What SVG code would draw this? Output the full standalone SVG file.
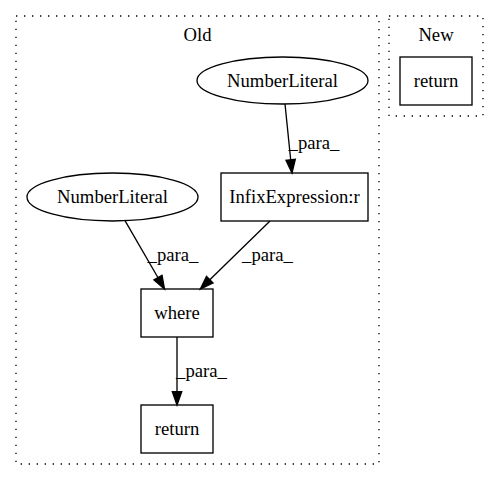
<svg xmlns="http://www.w3.org/2000/svg" width="499" height="480" viewBox="0 0 499 480">
<style>
text{font-family:"Liberation Serif","Times New Roman",serif;font-size:18.67px;fill:#000;text-anchor:middle}
.cl{fill:none;stroke:#000;stroke-dasharray:1.33,6.67;stroke-width:1.33}
.n{fill:none;stroke:#000;stroke-width:1.33}
.e{fill:none;stroke:#000;stroke-width:1.33}
.ah{fill:#000;stroke:#000;stroke-width:1.33}
</style>
<rect width="499" height="480" fill="#fff"/>
<g id="cluster_old">
<rect class="cl" x="16" y="16" width="363" height="448"/>
<text x="197.5" y="41">Old</text>
</g>
<g id="cluster_new">
<rect class="cl" x="389" y="16" width="94" height="100"/>
<text x="436" y="41">New</text>
</g>
<g id="edges">
<path class="e" d="M285,104 L290.7,159.8"/>
<polygon class="ah" points="295.3,159.3 292,173 286,160.3"/>
<text x="314" y="149">_para_</text>
<path class="e" d="M125,220.7 L157.9,277.5"/>
<polygon class="ah" points="162,275.2 164.5,289 153.9,279.8"/>
<text x="173" y="261">_para_</text>
<path class="e" d="M270,221 L209.8,279.7"/>
<polygon class="ah" points="213.1,283 200.3,289 206.5,276.4"/>
<text x="267.5" y="261">_para_</text>
<path class="e" d="M177,337 L177,391.7"/>
<polygon class="ah" points="181.7,391.7 177,405 172.3,391.7"/>
<text x="201.5" y="377">_para_</text>
</g>
<g id="nl_top">
<ellipse class="n" cx="282.5" cy="80.5" rx="85.5" ry="23.5"/>
<text x="282.5" y="86.5">NumberLiteral</text>
</g>
<g id="infix">
<rect class="n" x="221" y="173" width="147" height="48"/>
<text x="294.5" y="203">InfixExpression:r</text>
</g>
<g id="nl_left">
<ellipse class="n" cx="112.5" cy="197" rx="85.5" ry="24"/>
<text x="112.5" y="203">NumberLiteral</text>
</g>
<g id="where">
<rect class="n" x="141" y="289" width="72" height="48"/>
<text x="177" y="319">where</text>
</g>
<g id="return_old">
<rect class="n" x="141" y="405" width="72" height="48"/>
<text x="177" y="435">return</text>
</g>
<g id="return_new">
<rect class="n" x="400" y="57" width="72" height="48"/>
<text x="436" y="87">return</text>
</g>
</svg>
